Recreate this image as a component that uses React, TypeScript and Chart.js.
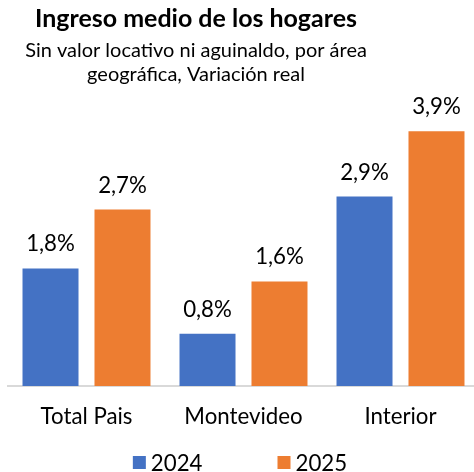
import React, { useEffect, useRef } from "react";
import { Chart, registerables } from "chart.js";

Chart.register(...registerables);

const categories = ["Total Pais", "Montevideo", "Interior"];
const seriesNames = ["2024", "2025"];
const values2024 = [1.8, 0.8, 2.9];
const values2025 = [2.7, 1.6, 3.9];
const seriesColors = ["#4472C4", "#ED7D31"];
const titleText = "Ingreso medio de los hogares";
const subtitleLines = ["Sin valor locativo ni aguinaldo, por área", "geográfica, Variación real"];

const FONT = "Lato, Carlito, 'Noto Sans', sans-serif";
const W = 480;
const H = 472;

function fitSize(text: string, target: number, weight: string) {
  const c = document.createElement("canvas").getContext("2d")!;
  c.font = `${weight} 100px ${FONT}`;
  const w = c.measureText(text).width;
  return (100 * target) / w;
}

export default function App() {
  const ref = useRef<HTMLCanvasElement | null>(null);

  useEffect(() => {
    document.body.style.margin = "0";
    const tickSize = fitSize("Total Pais", 92, "normal");
    const titleSize = fitSize(titleText, 322, "bold");
    const subSize = fitSize(subtitleLines[0], 342, "normal");
    const labelSize = tickSize;
    const tickPad = 9;
    const axisH = tickPad + tickSize * 1.2 + 18;
    const padBottom = H - 385 - axisH;

    const overlay = {
      id: "overlay",
      afterDatasetsDraw(chart: any) {
        const ctx = chart.ctx;
        ctx.save();
        ctx.fillStyle = "#000";
        ctx.textAlign = "center";
        ctx.textBaseline = "alphabetic";
        ctx.font = `normal ${labelSize}px ${FONT}`;
        chart.data.datasets.forEach((ds: any, di: number) => {
          const meta = chart.getDatasetMeta(di);
          meta.data.forEach((bar: any, i: number) => {
            const v = ds.data[i] as number;
            const txt = v.toFixed(1).replace(".", ",") + "%";
            ctx.fillText(txt, bar.x, bar.y - 17);
          });
        });
        ctx.restore();
      },
      afterDraw(chart: any) {
        const ctx = chart.ctx;
        ctx.save();
        ctx.fillStyle = "#000";
        ctx.textAlign = "center";
        ctx.textBaseline = "alphabetic";
        const cx = 196;
        ctx.font = `bold ${titleSize}px ${FONT}`;
        ctx.fillText(titleText, cx, 27);
        ctx.font = `normal ${subSize}px ${FONT}`;
        ctx.fillText(subtitleLines[0], cx, 57);
        ctx.fillText(subtitleLines[1], cx, 81);

        // legend
        ctx.font = `normal ${tickSize}px ${FONT}`;
        const box = 13;
        const gap = 5;
        const spacing = 75;
        const items = chart.data.datasets.map((ds: any) => ({
          label: ds.label,
          color: ds.backgroundColor,
          w: box + gap + ctx.measureText(ds.label).width,
        }));
        const total = items.reduce((s: number, it: any) => s + it.w, 0) + spacing * (items.length - 1);
        let x = chart.width / 2 - total / 2;
        const boxTop = chart.height - 16;
        ctx.textAlign = "left";
        ctx.textBaseline = "middle";
        items.forEach((it: any) => {
          ctx.fillStyle = it.color;
          ctx.fillRect(x, boxTop, box, box);
          ctx.fillStyle = "#000";
          ctx.fillText(it.label, x + box + gap, boxTop + box / 2 + 1);
          x += it.w + spacing;
        });
        ctx.restore();
      },
    };

    const chart = new Chart(ref.current!, {
      type: "bar",
      data: {
        labels: categories,
        datasets: [
          { label: seriesNames[0], data: values2024, backgroundColor: seriesColors[0] },
          { label: seriesNames[1], data: values2025, backgroundColor: seriesColors[1] },
        ],
      },
      options: {
        responsive: false,
        animation: false,
        events: [],
        layout: { padding: { left: 8, right: 1, top: 92, bottom: padBottom } },
        datasets: { bar: { barPercentage: 0.778, categoryPercentage: 0.917 } },
        plugins: {
          legend: { display: false },
          title: { display: false },
          tooltip: { enabled: false },
        },
        scales: {
          x: {
            grid: { display: false },
            border: { display: true, color: "#D9D9D9", width: 2 },
            ticks: {
              color: "#000",
              padding: tickPad,
              font: { family: FONT, size: tickSize },
            },
          },
          y: { display: false, min: 0, max: 4.5 },
        },
      },
      plugins: [overlay],
    });
    return () => chart.destroy();
  }, []);

  return (
    <div style={{ width: 474, height: 472, overflow: "hidden", position: "relative", background: "#fff" }}>
      <canvas ref={ref} width={W} height={H} style={{ width: W, height: H, display: "block" }} />
    </div>
  );
}
